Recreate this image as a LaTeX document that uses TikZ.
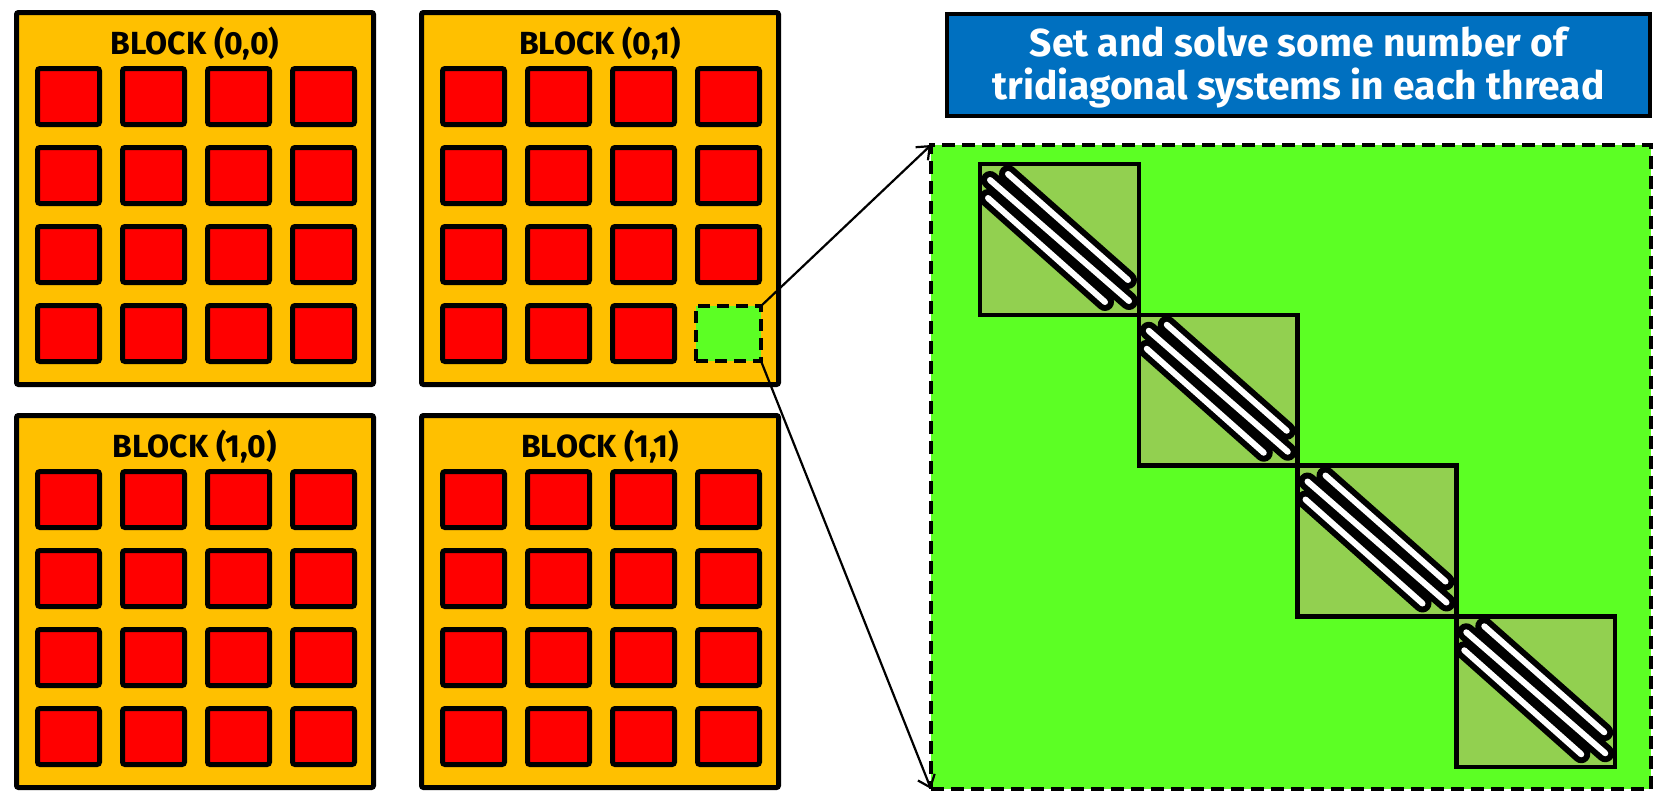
\documentclass[tikz,border=0pt]{standalone}
\usepackage{fontspec}
\setmainfont{Fira Sans}
\usetikzlibrary{arrows.meta}
\definecolor{blockgold}{HTML}{FFC000}
\definecolor{cellred}{HTML}{FF0000}
\definecolor{threadgreen}{RGB}{92,255,36}
\definecolor{sysgreen}{HTML}{92D050}
\definecolor{titleblue}{HTML}{0070C0}
\begin{document}
\begin{tikzpicture}[x=1pt,y=-1pt,
  blockbox/.style={draw=black, line width=5pt, fill=blockgold, rounded corners=2pt,
    minimum width=357pt, minimum height=372pt, inner sep=0pt, outer sep=0pt},
  blocklabel/.style={font=\bfseries\fontsize{32}{34}\selectfont, inner sep=0pt, anchor=base},
  cellbox/.style={draw=black, line width=5pt, fill=cellred, rounded corners=2.5pt,
    minimum width=62pt, minimum height=56pt, inner sep=0pt, outer sep=0pt},
  threadcell/.style={draw=black, line width=4pt, fill=threadgreen, dash pattern=on 12pt off 7pt,
    minimum width=65pt, minimum height=55pt, inner sep=0pt, outer sep=0pt},
  threadframe/.style={draw=black, line width=4pt, fill=threadgreen, dash pattern=on 13pt off 7pt,
    minimum width=720pt, minimum height=644pt, inner sep=0pt, outer sep=0pt},
  titlebox/.style={draw=black, line width=4pt, fill=titleblue, text=white, align=center,
    font=\bfseries\fontsize{39}{43}\selectfont,
    minimum width=703pt, minimum height=102pt, inner sep=0pt, outer sep=0pt},
  titletext/.style={text=white, align=center, font=\bfseries\fontsize{39}{43}\selectfont,
    inner sep=0pt, outer sep=0pt},
  sysbox/.style={draw=black, line width=4.5pt, fill=sysgreen, anchor=north west,
    minimum width=158.75pt, minimum height=150.75pt, inner sep=0pt, outer sep=0pt},
  stripeblack/.style={draw=black, line width=18pt, line cap=round},
  stripewhite/.style={draw=white, line width=6pt, line cap=round},
  conn/.style={draw=black, line width=2.2pt, -{Straight Barb[length=11pt,width=18pt,line width=2.2pt]}}
]
\useasboundingbox (0,0) rectangle (1661,793);

% the four thread blocks, each with a 4x4 grid of threads
\foreach \r/\c/\bx/\by in {0/0/195/198.5, 0/1/600/198.5, 1/0/195/601.5, 1/1/600/601.5} {
  \node[blockbox] (blk\r\c) at (\bx,\by) {};
  \node[blocklabel] (lbl\r\c) at ([yshift=-42pt]blk\r\c.north) {BLOCK (\r,\c)};
  \foreach \i in {0,...,3} {
    \foreach \j in {0,...,3} {
      \ifnum\r\c\i\j=133 \else
        \node[cellbox] (cell\r\c\i\j) at ({\bx-126.5+85*\i},{\by-102+79*\j}) {};
      \fi
    }
  }
}

% the selected thread
\node[threadcell] (thr) at (728.5,333.5) {};

% enlarged view of one thread
\node[threadframe] (frame) at (1291,467) {};

\draw[conn] (thr.north east) -- (frame.north west);
\draw[conn] (thr.south east) -- (frame.south west);

% block-diagonal tridiagonal systems
\foreach \k in {0,...,3} {
  \node[sysbox] (sys\k) at ({980+158.75*\k},{164+150.75*\k}) {};
}
\foreach \k in {0,...,3} {
  \begin{scope}[shift={(sys\k.north west)}]
    \draw[stripeblack] (28,10) -- (148,116) (10,16) -- (149,137) (8,34) -- (125,138);
    \draw[stripewhite] (28,10) -- (148,116) (10,16) -- (149,137) (8,34) -- (125,138);
  \end{scope}
}

% caption box
\node[titlebox] (title) at (1298.5,65) {};
\node[titletext] (titletxt) at (1298.5,68) {Set and solve some number of\\tridiagonal systems in each thread};
\end{tikzpicture}
\end{document}
